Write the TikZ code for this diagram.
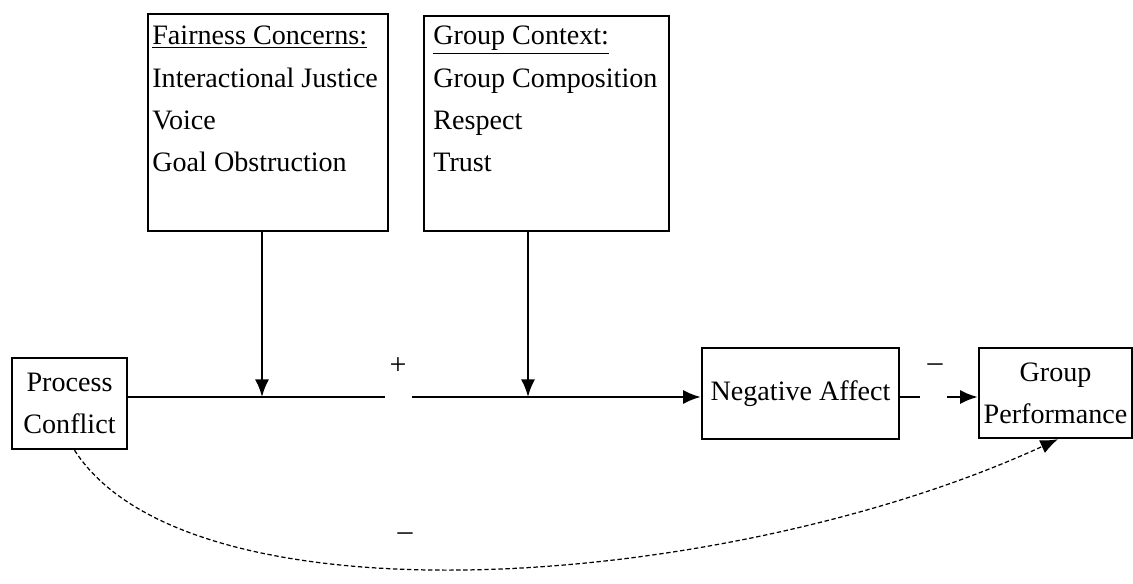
\documentclass[tikz,border=0pt]{standalone}
\usepackage{fontspec}
\setmainfont{Liberation Serif}
\usetikzlibrary{arrows.meta}

\begin{document}
\begin{tikzpicture}[
    x=0.02cm, y=-0.02cm,
    box/.style={draw, line width=1.4pt, inner sep=0pt},
    lbl/.style={font=\fontsize{16}{24}\selectfont, align=center, inner sep=0pt},
    list/.style={font=\fontsize{16}{24}\selectfont, align=left, inner sep=0pt, anchor=north west},
    link/.style={line width=1.3pt},
    arr/.style={link, -{Latex[length=10pt, width=8pt]}},
    sign/.style={font=\fontsize{17}{17}\selectfont, inner sep=1pt},
  ]
    \useasboundingbox (0,0) rectangle (1133,584);

    % moderator boxes
    \node[box, minimum width=4.8cm, minimum height=4.34cm, anchor=north west] (fair) at (147,13) {};
    \node[list] (fairlist) at (152,26) {\underline{Fairness Concerns:}\\Interactional Justice\\Voice\\Goal Obstruction};
    \node[box, minimum width=4.9cm, minimum height=4.3cm, anchor=north west] (ctx) at (423,15) {};
    \node[list] (ctxlist) at (433,26) {\underline{Group Context:}\\Group Composition\\Respect\\Trust};

    % main chain
    \node[box, lbl, minimum width=2.3cm, minimum height=1.82cm] (pc) at (69.5,403.5) {Process\\Conflict};
    \node[box, lbl, minimum width=3.94cm, minimum height=1.82cm] (na) at (800.5,393.5) {Negative Affect};
    \node[box, lbl, minimum width=3.06cm, minimum height=1.8cm] (gp) at (1055.5,393) {Group\\Performance};

    \coordinate (plusL) at (385,397);
    \coordinate (plusR) at (412,397);
    \coordinate (hit1) at (262,397);
    \coordinate (hit2) at (528,397);
    \coordinate (minL) at (920,397);
    \coordinate (minR) at (947,397);

    \draw[link] (pc.east |- plusL) -- (plusL);
    \draw[arr] (plusR) -- (na.west |- plusR);
    \node[sign] (plus) at (398,366) {+};
    \draw[arr] (fair.south -| hit1) -- (hit1);
    \draw[arr] (ctx.south -| hit2) -- (hit2);

    \draw[link] (na.east |- minL) -- (minL);
    \draw[arr] (minR) -- (gp.west |- minR);
    \node[sign] (minus1) at (935,368) {--};

    % direct path
    \draw[line width=0.7pt, dash pattern=on 2.5pt off 1.5pt, -{Latex[length=10pt, width=8pt]}]
      ([xshift=0.1cm]pc.south) .. controls (190,630) and (730,590) .. ([xshift=0.05cm]gp.south);
    \node[sign] (minus2) at (405,537) {--};
\end{tikzpicture}
\end{document}
